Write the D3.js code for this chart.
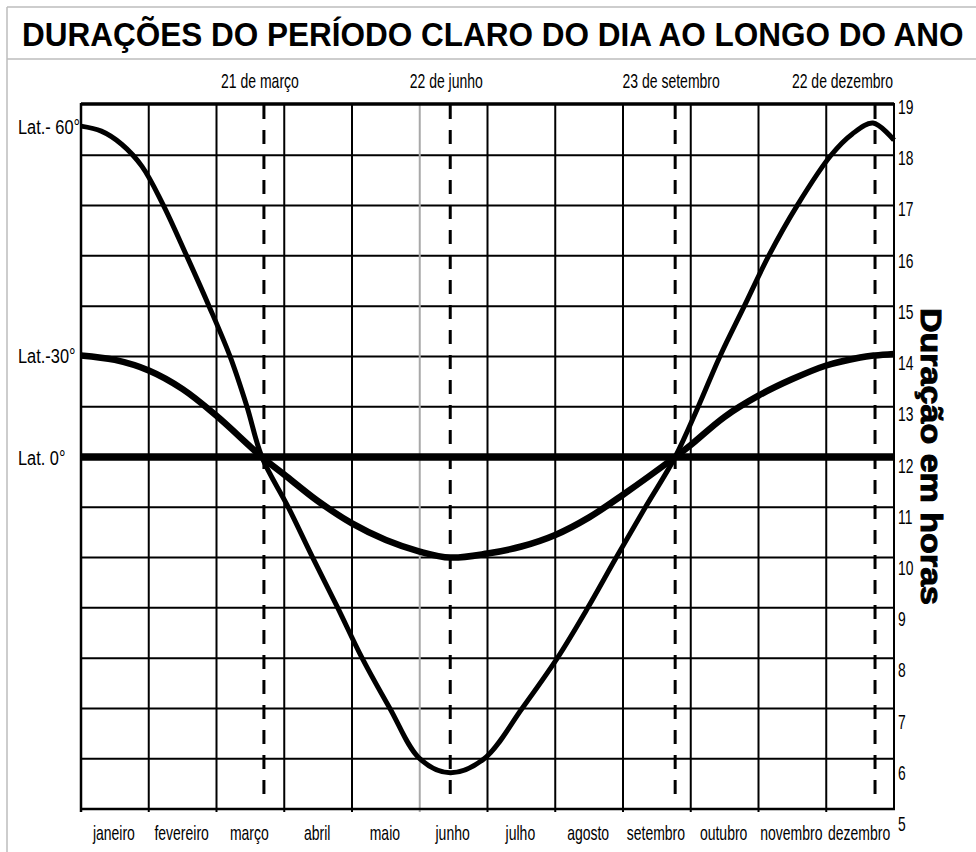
<!DOCTYPE html>
<html><head><meta charset="utf-8">
<script src="https://cdn.jsdelivr.net/npm/d3@7"></script>
<style>
html,body{margin:0;padding:0;background:#fff;}
text{font-family:"Liberation Sans",Arial,sans-serif;fill:#000;}
</style></head>
<body><svg id="chart" width="976" height="852"></svg>
<script>
// ---- data ----
const title = "DURAÇÕES DO PERÍODO CLARO DO DIA AO LONGO DO ANO";
const yTitle = "Duração em horas";
const months = ["janeiro","fevereiro","março","abril","maio","junho","julho","agosto","setembro","outubro","novembro","dezembro"];
const hours = [5,6,7,8,9,10,11,12,13,14,15,16,17,18,19];
const dateMarks = ["21 de março","22 de junho","23 de setembro","22 de dezembro"];
const dateMarkPos = [2.70, 5.45, 8.77, 11.72]; // position in months from 1 Jan
const latLabels = ["Lat.- 60°","Lat.-30°","Lat. 0°"];
// [month position, hours of daylight]
const lat60 = [[0,18.58],[0.3,18.48],[0.6,18.22],[0.9,17.78],[1.2,17.05],[1.56,16.0],[1.89,15.0],[2.2,14.0],[2.45,13.0],[2.67,12.0],[3.06,11.0],[3.42,10.0],[3.79,9.0],[4.15,8.0],[4.56,7.0],[5.0,6.0],[5.45,5.72],[5.95,6.0],[6.51,7.0],[7.03,8.0],[7.48,9.0],[7.9,10.0],[8.33,11.0],[8.77,12.0],[9.11,13.0],[9.43,14.0],[9.79,15.0],[10.15,16.0],[10.57,17.0],[11.07,18.0],[11.38,18.42],[11.69,18.64],[12,18.3]];
const lat30 = [[0,14.02],[0.5,13.93],[1.0,13.72],[1.5,13.35],[2.0,12.82],[2.67,12.0],[3.0,11.65],[3.5,11.12],[4.0,10.68],[4.5,10.35],[5.0,10.12],[5.45,10.0],[6.0,10.08],[6.5,10.22],[7.0,10.45],[7.5,10.8],[8.0,11.25],[8.77,12.0],[9.0,12.24],[9.5,12.8],[10.0,13.22],[10.5,13.55],[11.0,13.82],[11.5,13.98],[11.72,14.02],[12,14.05]];
const lat0 = [[0,12],[12,12]];

// ---- layout ----
const svg = d3.select("#chart");
const x = d3.scaleLinear().domain([0,12]).range([81,894]);
const y = d3.scaleLinear().domain([5,19]).range([809,105]);
const yLab = d3.scaleLinear().domain([5,19]).range([831,114]);

function ctext(g, px, py, txt, size, sx, anchor, weight){
  return g.append("text")
    .attr("transform", `translate(${px},${py}) scale(${sx},1)`)
    .attr("text-anchor", anchor || "start")
    .style("font-size", size + "px")
    .style("font-weight", weight || "normal")
    .text(txt);
}

// frame
svg.append("line").attr("x1",7).attr("x2",7).attr("y1",7).attr("y2",852).attr("stroke","#bdbdbd").attr("stroke-width",1.5);
svg.append("line").attr("x1",7).attr("x2",976).attr("y1",7).attr("y2",7).attr("stroke","#bdbdbd").attr("stroke-width",1.5);
svg.append("line").attr("x1",7).attr("x2",976).attr("y1",59).attr("y2",59).attr("stroke","#bdbdbd").attr("stroke-width",1.5);

// title (scaled horizontally to fit)
const tEl = ctext(svg, 22, 46, title, 33, 1, "start", "bold");
const tW = tEl.node().getComputedTextLength();
tEl.attr("transform", `translate(22,46) scale(${942 / tW},1)`);

// grid
const grid = svg.append("g");
grid.selectAll("line.h").data(hours.filter(h => h > 5 && h < 19)).join("line")
  .attr("x1", x(0)).attr("x2", x(12)).attr("y1", d => y(d)).attr("y2", d => y(d))
  .attr("stroke","#000").attr("stroke-width",2);
grid.selectAll("line.v").data(d3.range(1,12)).join("line")
  .attr("x1", d => x(d)).attr("x2", d => x(d)).attr("y1", y(19)).attr("y2", y(5)+3)
  .attr("stroke", d => d === 5 ? "#a8a8a8" : "#000").attr("stroke-width",2);
// borders
grid.append("line").attr("x1",x(0)).attr("x2",x(12)).attr("y1",y(19)-1).attr("y2",y(19)-1).attr("stroke","#000").attr("stroke-width",3.5);
grid.append("line").attr("x1",x(0)).attr("x2",x(12)+1).attr("y1",y(5)).attr("y2",y(5)).attr("stroke","#000").attr("stroke-width",2.5);
grid.append("line").attr("x1",x(0)).attr("x2",x(0)).attr("y1",y(19)-2).attr("y2",y(5)+3).attr("stroke","#000").attr("stroke-width",2.5);
grid.append("line").attr("x1",x(12)).attr("x2",x(12)).attr("y1",y(19)-2).attr("y2",y(5)+1).attr("stroke","#000").attr("stroke-width",2);

// dashed date lines
svg.append("g").selectAll("line").data(dateMarkPos).join("line")
  .attr("x1", d => x(d)).attr("x2", d => x(d)).attr("y1", y(19)).attr("y2", 802)
  .attr("stroke","#000").attr("stroke-width",3).attr("stroke-dasharray","14,11");

// curves
const line = d3.line().x(d => x(d[0])).y(d => y(d[1])).curve(d3.curveCatmullRom.alpha(0.5));
const curves = svg.append("g").attr("fill","none").attr("stroke","#000").attr("stroke-linecap","butt");
curves.append("path").datum(lat0).attr("d", line).attr("stroke-width",7.5);
curves.append("path").datum(lat30).attr("d", line).attr("stroke-width",6.5);
curves.append("path").datum(lat60).attr("d", line).attr("stroke-width",5);

// left latitude labels
const labs = svg.append("g");
[lat60, lat30, lat0].forEach((s, i) => {
  ctext(labs, 18, y(s[0][1]) + 8, latLabels[i], 21, 0.78, "start");
});

// date labels (top)
const topG = svg.append("g");
dateMarks.forEach((t, i) => {
  const el = ctext(topG, x(dateMarkPos[i]) - 4, 88, t, 20, 0.7, "middle");
  const w = el.node().getBBox().width * 0.7;
  const cx = Math.min(x(dateMarkPos[i]) - 4, x(12) - 1 - w / 2);
  el.attr("transform", `translate(${cx},88) scale(0.7,1)`);
});

// month labels (bottom)
const botG = svg.append("g");
months.forEach((m, i) => ctext(botG, x(i + 0.5) - 1, 840, m, 20, 0.7, "middle"));

// right hour labels
const axG = svg.append("g");
hours.forEach(h => ctext(axG, 898, yLab(h), String(h), 21, 0.66, "start"));

// right axis title
svg.append("text")
  .attr("transform", "translate(921,308) rotate(90)")
  .attr("textLength", 297).attr("lengthAdjust","spacingAndGlyphs")
  .style("font-size","30px").style("font-weight","bold")
  .attr("stroke","#000").attr("stroke-width",1)
  .text(yTitle);
</script></body></html>
